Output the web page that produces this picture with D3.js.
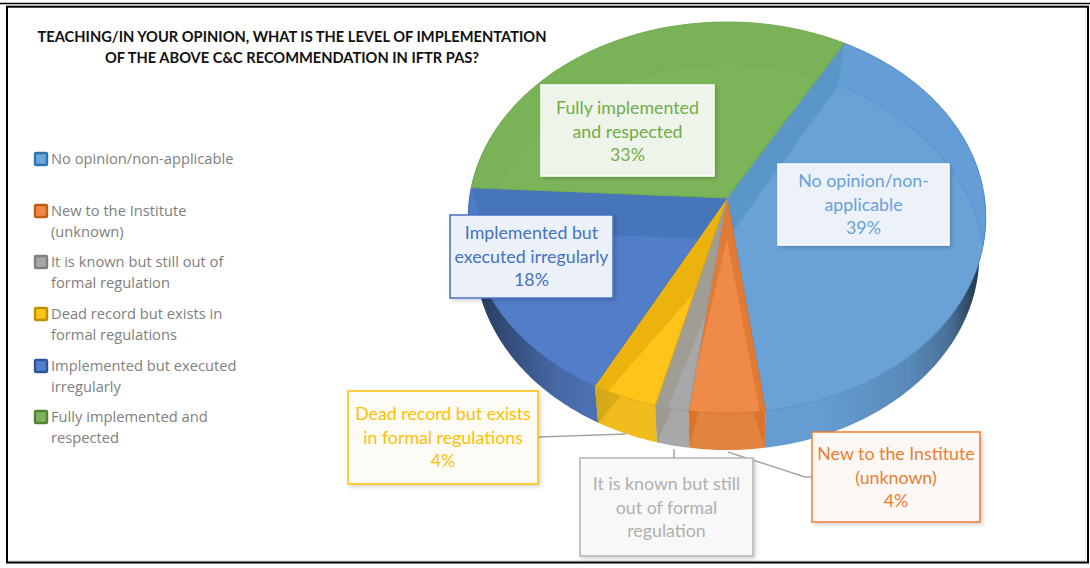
<!DOCTYPE html>
<html>
<head>
<meta charset="utf-8">
<script src="https://cdn.jsdelivr.net/npm/d3@7"></script>
<style>
	html, body { margin: 0; padding: 0; background: #fff; }
	svg { display: block; }
</style>
</head>
<body>
<div id="chart"></div>
<script>
	// chart data
	// slice shares are measured from the drawn wedges, the printed percentages differ a little
	var categories = ['No opinion/non-applicable', 'New to the Institute (unknown)', 'It is known but still out of formal regulation', 'Dead record but exists in formal regulations', 'Implemented but executed irregularly', 'Fully implemented and respected'];
	var sliceShares = [39.6, 4.3, 1.9, 3.7, 18.1, 32.4];
	// the grey label has no percentage showing in the picture
	var percentLabels = ['39%', '4%', null, '4%', '18%', '33%'];
	var legendLines = [
		['No opinion/non-applicable'],
		['New to the Institute', '(unknown)'],
		['It is known but still out of', 'formal regulation'],
		['Dead record but exists in', 'formal regulations'],
		['Implemented but executed', 'irregularly'],
		['Fully implemented and', 'respected']
	];
	var labelLines = [
		['No opinion/non-', 'applicable'],
		['New to the Institute', '(unknown)'],
		['It is known but still', 'out of formal', 'regulation'],
		['Dead record but exists', 'in formal regulations'],
		['Implemented but', 'executed irregularly'],
		['Fully implemented', 'and respected']
	];
	var titleLines = ['TEACHING/IN YOUR OPINION, WHAT IS THE LEVEL OF IMPLEMENTATION', 'OF THE ABOVE C&C RECOMMENDATION IN IFTR PAS?'];

	(function () {
		// properties
		var width = 1090;
		var height = 568;
		var startDeg = 29.7;
		var depth = 37;
		var bottomSx = 0.975;
		var cx = 727, cy = 198, rx = 257.5, ry = 193.6, persp = 0.0997;
		var innerDrop = 42, innerSy = 1;

		var faces = ['#6aa2d8', '#ef8a48', '#a8a8a8', '#fec41a', '#527ec9', '#7cb45a'];
		var rings = ['#659ed6', '#ef8a48', '#a8a8a8', '#fec41a', '#4f7bc6', '#7ab258'];
		var bands = ['#5a97c8', '#e07a35', '#9f9d94', '#ecb30f', '#4675b9', '#7ab258'];
		var ringLines = ['#4f8cc4', '#d8702c', '#979797', '#dda60c', '#4a74bc', '#72a952'];
		var walls = ['#659dd2', '#e2843f', '#a8a8a8', '#f1bd1e', '#4e74b8', '#6f9f50'];
		var wallBands = ['#659dd2', '#d9752f', '#9a9a92', '#dcad18', '#4e74b8', '#6f9f50'];
		var legendFill = ['#2e75b6', '#c55a11', '#7f7f7f', '#bf9000', '#2f5597', '#548235'];
		var legendInner = ['#6ea6da', '#ee8a48', '#a6a6a6', '#fec41a', '#5280cc', '#7cb45a'];
		var textColors = ['#66a1da', '#ed7d31', '#b0b0b0', '#ffc000', '#4472c4', '#70ad47'];
		var boxBorders = ['#ffffff', '#ed7d31', '#b4b4b4', '#ffc000', '#4472c4', '#ffffff'];
		var boxFills = ['#edf2fa', '#fdf8f5', '#f8f8f8', '#fdfbf6', '#ecf1f9', '#eef4ea'];

		// bevel of the top face, widths at the start and end edge of each slice
		var bevelSx = [[0.95, 1.05], [1.05, 1.3], [0, 1.17], [0, 1.25], [0.95, 0.95], [0.95, 0.95]];
		var bevelDx = [0, 0, 9, 14, 0, 0];
		// darker triangles on the wall under the bevel, in degrees along the rim
		var wallTriStart = [0, 2.5, 0, 0, 0, 0];
		var wallTriEnd = [0, 2, 3.5, 6, 0, 0];

		var boxes = [
			{x: 778, y: 164, w: 171, h: 81, top: 181},
			{x: 812, y: 432, w: 168, h: 90, top: 454},
			{x: 580, y: 458, w: 173, h: 98, top: 484},
			{x: 348, y: 391, w: 190, h: 93, top: 414},
			{x: 450, y: 215, w: 163, h: 83, top: 233},
			{x: 541, y: 85, w: 173, h: 91, top: 108}
		];
		var leaders = [
			[[538, 437], [626, 434]],
			[[674, 449], [674, 458]],
			[[728, 452], [805, 477], [812, 477]]
		];
		var legendRows = [159, 211, 262, 314, 366, 417];

		var svg = d3.select('#chart').append('svg')
			.attr('width', width).attr('height', height);
		var defs = svg.append('defs');

		var shadow = defs.append('filter').attr('id', 'boxShadow')
			.attr('x', '-10%').attr('y', '-10%').attr('width', '125%').attr('height', '125%');
		shadow.append('feDropShadow')
			.attr('dx', 2).attr('dy', 2).attr('stdDeviation', 2)
			.attr('flood-color', '#000').attr('flood-opacity', 0.18);

		// frame, double rule on top and a faint inner edge bottom right
		svg.append('line')
			.attr('x1', 0).attr('x2', width).attr('y1', 3.5).attr('y2', 3.5)
			.attr('stroke', '#000').attr('stroke-width', 1.7);
		svg.append('path')
			.attr('d', 'M1085.5,8V560.5H8')
			.attr('fill', 'none').attr('stroke', '#e6e6e6').attr('stroke-width', 1);
		svg.append('rect')
			.attr('x', 7).attr('y', 6.7).attr('width', 1081).attr('height', 555.8)
			.attr('fill', 'none').attr('stroke', '#000').attr('stroke-width', 2);

		// title
		svg.append('g').selectAll('text')
			.data(titleLines).enter().append('text')
			.attr('x', 292)
			.attr('y', (d, i) => 42 + i * 21)
			.attr('text-anchor', 'middle')
			.attr('font-family', 'Lato, sans-serif')
			.attr('font-weight', 700)
			.attr('font-size', 14.65)
			.attr('fill', '#111')
			.text(d => d);

		// helper functions
		function project(deg, sx, sy, dy, dx) {
			var a = deg * Math.PI / 180;
			var u = Math.sin(a);
			var v = -Math.cos(a);
			var w = 1 - persp * v;
			return [cx + (dx || 0) + sx * rx * u / w, cy + dy + sy * ry * v / w];
		}
		function rim(deg) { return project(deg, 1, 1, 0); }
		function bottomRim(deg) { return project(deg, bottomSx, 1, depth); }
		function innerRim(d, deg) {
			var t = (deg - d.start) / (d.end - d.start);
			var sx = bevelSx[d.i][0] + (bevelSx[d.i][1] - bevelSx[d.i][0]) * t;
			return project(deg, sx, innerSy, innerDrop, bevelDx[d.i]);
		}
		function innerApex(d) { return [cx + bevelDx[d.i], cy + innerDrop]; }
		function arcDegs(d) {
			var n = Math.max(2, Math.ceil(d.end - d.start));
			return d3.range(n + 1).map(i => d.start + (d.end - d.start) * i / n);
		}
		var line = d3.line();
		var apex = [cx, cy];

		var slices = d3.pie().value(d => d).sort(null)
			.startAngle(startDeg * Math.PI / 180)
			.endAngle(startDeg * Math.PI / 180 + 2 * Math.PI)(sliceShares)
			.map(d => ({
				i: d.index,
				start: d.startAngle * 180 / Math.PI,
				end: d.endAngle * 180 / Math.PI
			}));

		slices.forEach(function (d) {
			defs.append('clipPath').attr('id', 'wedge' + d.i).append('path')
				.attr('d', line([apex].concat(arcDegs(d).map(rim))) + 'Z');
		});

		// shading of the wall towards both ends of the pie
		var shade = defs.append('linearGradient').attr('id', 'wallShade')
			.attr('gradientUnits', 'userSpaceOnUse')
			.attr('x1', cx - rx).attr('x2', cx + rx).attr('y1', 0).attr('y2', 0);
		[[0, 0.55], [0.05, 0.4], [0.17, 0.1], [0.28, 0], [0.68, 0], [0.85, 0.12], [0.93, 0.28], [0.98, 0.6]]
			.forEach(s => shade.append('stop').attr('offset', s[0])
				.attr('stop-color', '#000').attr('stop-opacity', s[1]));

		function wallPath(d) {
			var degs = arcDegs(d);
			var down = degs.slice().reverse().map(bottomRim);
			return line(degs.map(rim).concat(down)) + 'Z';
		}

		// side walls first, the top faces cover what is behind them
		var wallGroup = svg.append('g');
		wallGroup.selectAll('.wall')
			.data(slices).enter().append('path')
			.classed('wall', true)
			.attr('d', wallPath)
			.attr('fill', d => walls[d.i]);
		wallGroup.selectAll('.wallTriS')
			.data(slices.filter(d => wallTriStart[d.i] > 0)).enter().append('path')
			.classed('wallTriS', true)
			.attr('d', d => line([rim(d.start), rim(d.start + wallTriStart[d.i]), bottomRim(d.start)]) + 'Z')
			.attr('fill', d => wallBands[d.i]);
		wallGroup.selectAll('.wallTriE')
			.data(slices.filter(d => wallTriEnd[d.i] > 0)).enter().append('path')
			.classed('wallTriE', true)
			.attr('d', d => line([rim(d.end), rim(d.end - wallTriEnd[d.i]), bottomRim(d.end)]) + 'Z')
			.attr('fill', d => wallBands[d.i]);
		wallGroup.selectAll('.wallShade')
			.data(slices).enter().append('path')
			.classed('wallShade', true)
			.attr('d', wallPath)
			.attr('fill', 'url(#wallShade)');

		var tops = svg.append('g').selectAll('.slice')
			.data(slices).enter().append('g')
			.classed('slice', true);

		tops.append('path')
			.attr('d', d => line([apex].concat(arcDegs(d).map(rim))) + 'Z')
			.attr('fill', d => rings[d.i]);

		// darker bevel along the straight edges
		var clipped = tops.append('g').attr('clip-path', d => 'url(#wedge' + d.i + ')');
		clipped.append('path')
			.attr('d', d => line([apex, rim(d.start), innerRim(d, d.start), innerApex(d)]) + 'Z')
			.attr('fill', d => bands[d.i]);
		clipped.append('path')
			.attr('d', d => line([apex, rim(d.end), innerRim(d, d.end), innerApex(d)]) + 'Z')
			.attr('fill', d => bands[d.i]);
		clipped.append('path')
			.attr('d', d => line([innerApex(d)].concat(arcDegs(d).map(a => innerRim(d, a)))) + 'Z')
			.attr('fill', d => faces[d.i]);
		clipped.append('path')
			.attr('d', d => line(arcDegs(d).map(a => innerRim(d, a))))
			.attr('fill', 'none')
			.attr('stroke', d => ringLines[d.i])
			.attr('stroke-opacity', 0.6)
			.attr('stroke-width', 1);

		tops.append('path')
			.attr('d', d => line([apex].concat(arcDegs(d).map(rim))) + 'Z')
			.attr('fill', 'none')
			.attr('stroke', d => ringLines[d.i])
			.attr('stroke-width', 0.8);

		// leader lines
		svg.append('g').selectAll('.leader')
			.data(leaders).enter().append('path')
			.classed('leader', true)
			.attr('d', d => line(d))
			.attr('fill', 'none')
			.attr('stroke', '#a6a6a6')
			.attr('stroke-width', 1.5);

		// data labels
		var labels = svg.append('g').selectAll('.label')
			.data(slices).enter().append('g')
			.classed('label', true);

		labels.append('rect')
			.attr('x', d => boxes[d.i].x)
			.attr('y', d => boxes[d.i].y)
			.attr('width', d => boxes[d.i].w)
			.attr('height', d => boxes[d.i].h)
			.attr('fill', d => boxFills[d.i])
			.attr('stroke', d => boxBorders[d.i])
			.attr('stroke-width', 1.5)
			.attr('filter', 'url(#boxShadow)');

		labels.selectAll('text')
			.data(d => labelLines[d.i].concat(percentLabels[d.i] || []).map((t, n) => ({t: t, n: n, i: d.i})))
			.enter().append('text')
			.attr('x', d => boxes[d.i].x + boxes[d.i].w / 2)
			.attr('y', d => boxes[d.i].top + d.n * 23.5)
			.attr('dy', '0.35em')
			.attr('text-anchor', 'middle')
			.attr('font-family', 'Lato, sans-serif')
			.attr('font-size', 17.8)
			.attr('fill', d => textColors[d.i])
			.text(d => d.t);

		// legend
		var legend = svg.append('g').selectAll('.legendRow')
			.data(categories).enter().append('g')
			.classed('legendRow', true);

		legend.append('rect')
			.attr('x', 35)
			.attr('y', (d, i) => legendRows[i] - 6)
			.attr('width', 12).attr('height', 12).attr('rx', 1)
			.attr('fill', (d, i) => legendInner[i])
			.attr('stroke', (d, i) => legendFill[i])
			.attr('stroke-width', 2.4);

		legend.selectAll('text')
			.data((d, i) => legendLines[i].map((t, n) => ({t: t, n: n, i: i})))
			.enter().append('text')
			.attr('x', 51)
			.attr('y', d => legendRows[d.i] + d.n * 20.5)
			.attr('dy', '0.35em')
			.attr('font-family', '"Open Sans", sans-serif')
			.attr('font-size', 14.7)
			.attr('fill', '#808080')
			.text(d => d.t);
	})();
</script>
</body>
</html>
